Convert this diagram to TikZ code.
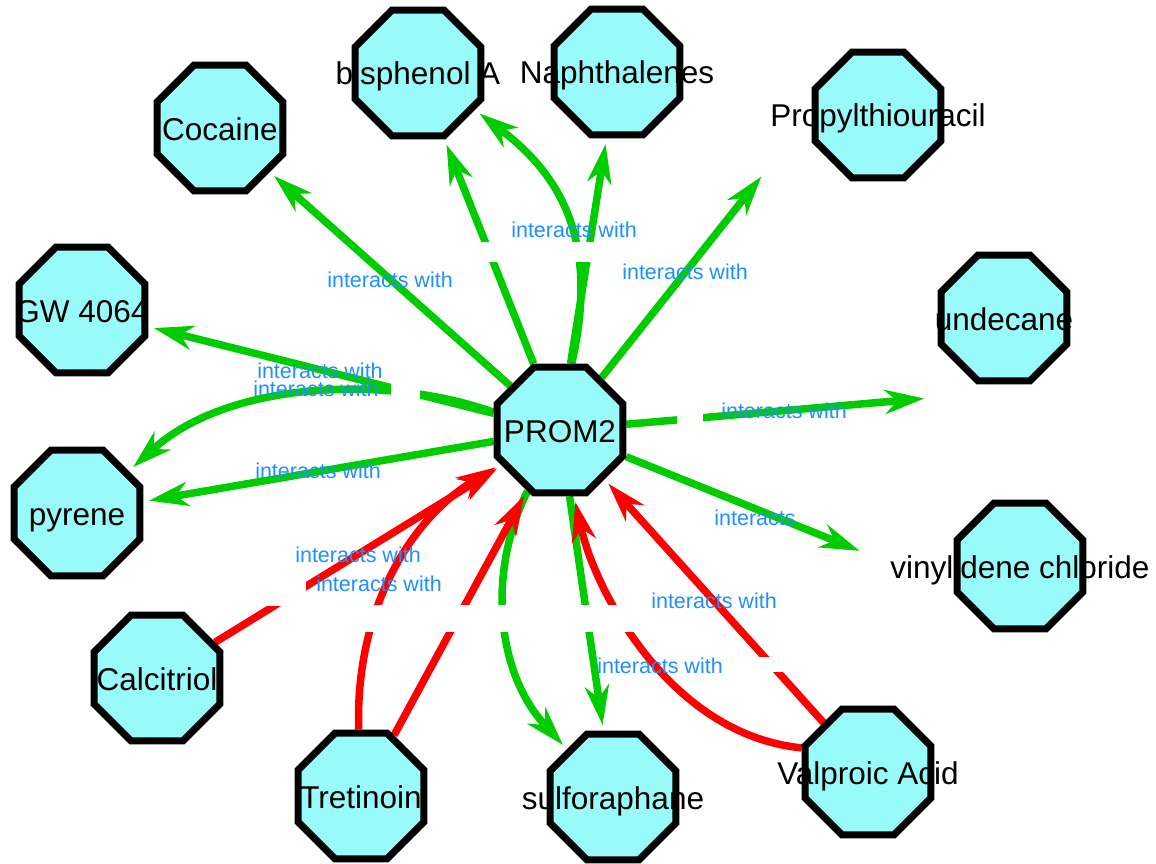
\documentclass[tikz,border=0pt]{standalone}
\usepackage{fontspec}
\setmainfont{Liberation Sans}
\usetikzlibrary{shapes.geometric,arrows.meta}
\definecolor{nodefill}{RGB}{153,250,250}
\definecolor{edgegreen}{RGB}{0,204,0}
\definecolor{edgered}{RGB}{255,0,0}
\definecolor{labelblue}{RGB}{30,144,255}
\begin{document}
\begin{tikzpicture}[x=1pt,y=-1pt,
  octfill/.style={regular polygon, regular polygon sides=8, minimum size=136pt, inner sep=0pt, outer sep=3.5pt, fill=nodefill},
  octline/.style={regular polygon, regular polygon sides=8, minimum size=136pt, inner sep=0pt, draw=black, line width=7pt},
  nodetext/.style={anchor=base, inner sep=0pt, font=\fontsize{31.5}{36}\selectfont},
  edgelabel/.style={anchor=base, inner sep=0pt, text=labelblue, font=\fontsize{21.5}{24}\selectfont},
  rel/.style={line width=7.5pt, -{Stealth[length=40pt,width=25pt,inset=13pt,line width=0pt]}, shorten >=6pt},
  outedge/.style={rel, draw=edgegreen},
  inedge/.style={rel, draw=edgered},
  gap/.style={fill=white}
]
\useasboundingbox[fill=white] (0,0) rectangle (1156,864);

% node bodies
\node[octfill] (coc) at (220,128) {};
\node[octfill] (bis) at (418,73) {};
\node[octfill] (nap) at (617,72) {};
\node[octfill] (pro) at (878,115) {};
\node[octfill] (gw)  at (82,310) {};
\node[octfill] (und) at (1004,318) {};
\node[octfill] (P)   at (560,430) {};
\node[octfill] (pyr) at (77,513) {};
\node[octfill] (vin) at (1020,566) {};
\node[octfill] (cal) at (157,678) {};
\node[octfill] (tre) at (361,796) {};
\node[octfill] (sul) at (613,797) {};
\node[octfill] (val) at (868,772) {};

% free ends of edges
\coordinate (proend) at (765,172);
\coordinate (undend) at (930,398);
\coordinate (vinend) at (865,553);

% outgoing (green)
\draw[outedge] (P) -- (coc);
\draw[outedge] (P) -- (bis);
\draw[outedge] (P.80) .. controls (600,240) and (560,175) .. (bis.-33);
\draw[outedge] (P) -- (nap);
\draw[outedge] (P) -- (proend);
\draw[outedge] (P) -- (gw);
\draw[outedge] (P.165) .. controls (390,375) and (230,380) .. (pyr.39);
\draw[outedge] (P) -- (pyr);
\draw[outedge] (P) -- (undend);
\draw[outedge] (P) -- (vinend);
\draw[outedge] (P.-118) .. controls (488,570) and (495,670) .. (sul.134);
\draw[outedge] (P) -- (sul);

% incoming (red)
\draw[inedge] (cal) -- (P);
\draw[inedge] (tre.92) .. controls (355,610) and (410,520) .. (P.-150);
\draw[inedge] (tre) -- (P);
\draw[inedge] (val.160) .. controls (670,735) and (595,590) .. (P.-78);
\draw[inedge] (val) -- (P);

% white label boxes cutting the edges
\fill[gap] (440,242) rectangle (660,262);
\fill[gap] (391,376) rectangle (420,404);
\fill[gap] (677,400) rectangle (703,440);
\fill[gap] (257,582) rectangle (306,606);
\fill[gap] (340,605) rectangle (640,632);
\fill[gap] (740,657) rectangle (800,672);

% edge labels
\node[edgelabel] (l1)  at (390,287) {interacts with};
\node[edgelabel] (l2)  at (574,237) {interacts with};
\node[edgelabel] (l3)  at (685,279) {interacts with};
\node[edgelabel] (l4)  at (320,378) {interacts with};
\node[edgelabel] (l5)  at (316,396) {interacts with};
\node[edgelabel] (l6)  at (318,478) {interacts with};
\node[edgelabel] (l7)  at (784,418) {interacts with};
\node[edgelabel] (l8)  at (755,525) {interacts};
\node[edgelabel] (l9)  at (358,562) {interacts with};
\node[edgelabel] (l10) at (379,591) {interacts with};
\node[edgelabel] (l11) at (714,608) {interacts with};
\node[edgelabel] (l12) at (660,673) {interacts with};

% node texts
\node[nodetext] (tcoc) at (220,140) {Cocaine};
\node[nodetext] (tbis) at (418,85) {bisphenol A};
\node[nodetext] (tnap) at (617,84) {Naphthalenes};
\node[nodetext] (tpro) at (878,127) {Propylthiouracil};
\node[nodetext] (tgw)  at (82,322) {GW 4064};
\node[nodetext] (tund) at (1004,330) {undecane};
\node[nodetext] (tP)   at (560,442) {PROM2};
\node[nodetext] (tpyr) at (77,525) {pyrene};
\node[nodetext] (tvin) at (1020,578) {vinylidene chloride};
\node[nodetext] (tcal) at (157,690) {Calcitriol};
\node[nodetext] (ttre) at (361,808) {Tretinoin};
\node[nodetext] (tsul) at (613,809) {sulforaphane};
\node[nodetext] (tval) at (868,784) {Valproic Acid};

% node borders on top
\foreach \n in {coc,bis,nap,pro,gw,und,P,pyr,vin,cal,tre,sul,val}
  \node[octline] at (\n.center) {};
\end{tikzpicture}
\end{document}
